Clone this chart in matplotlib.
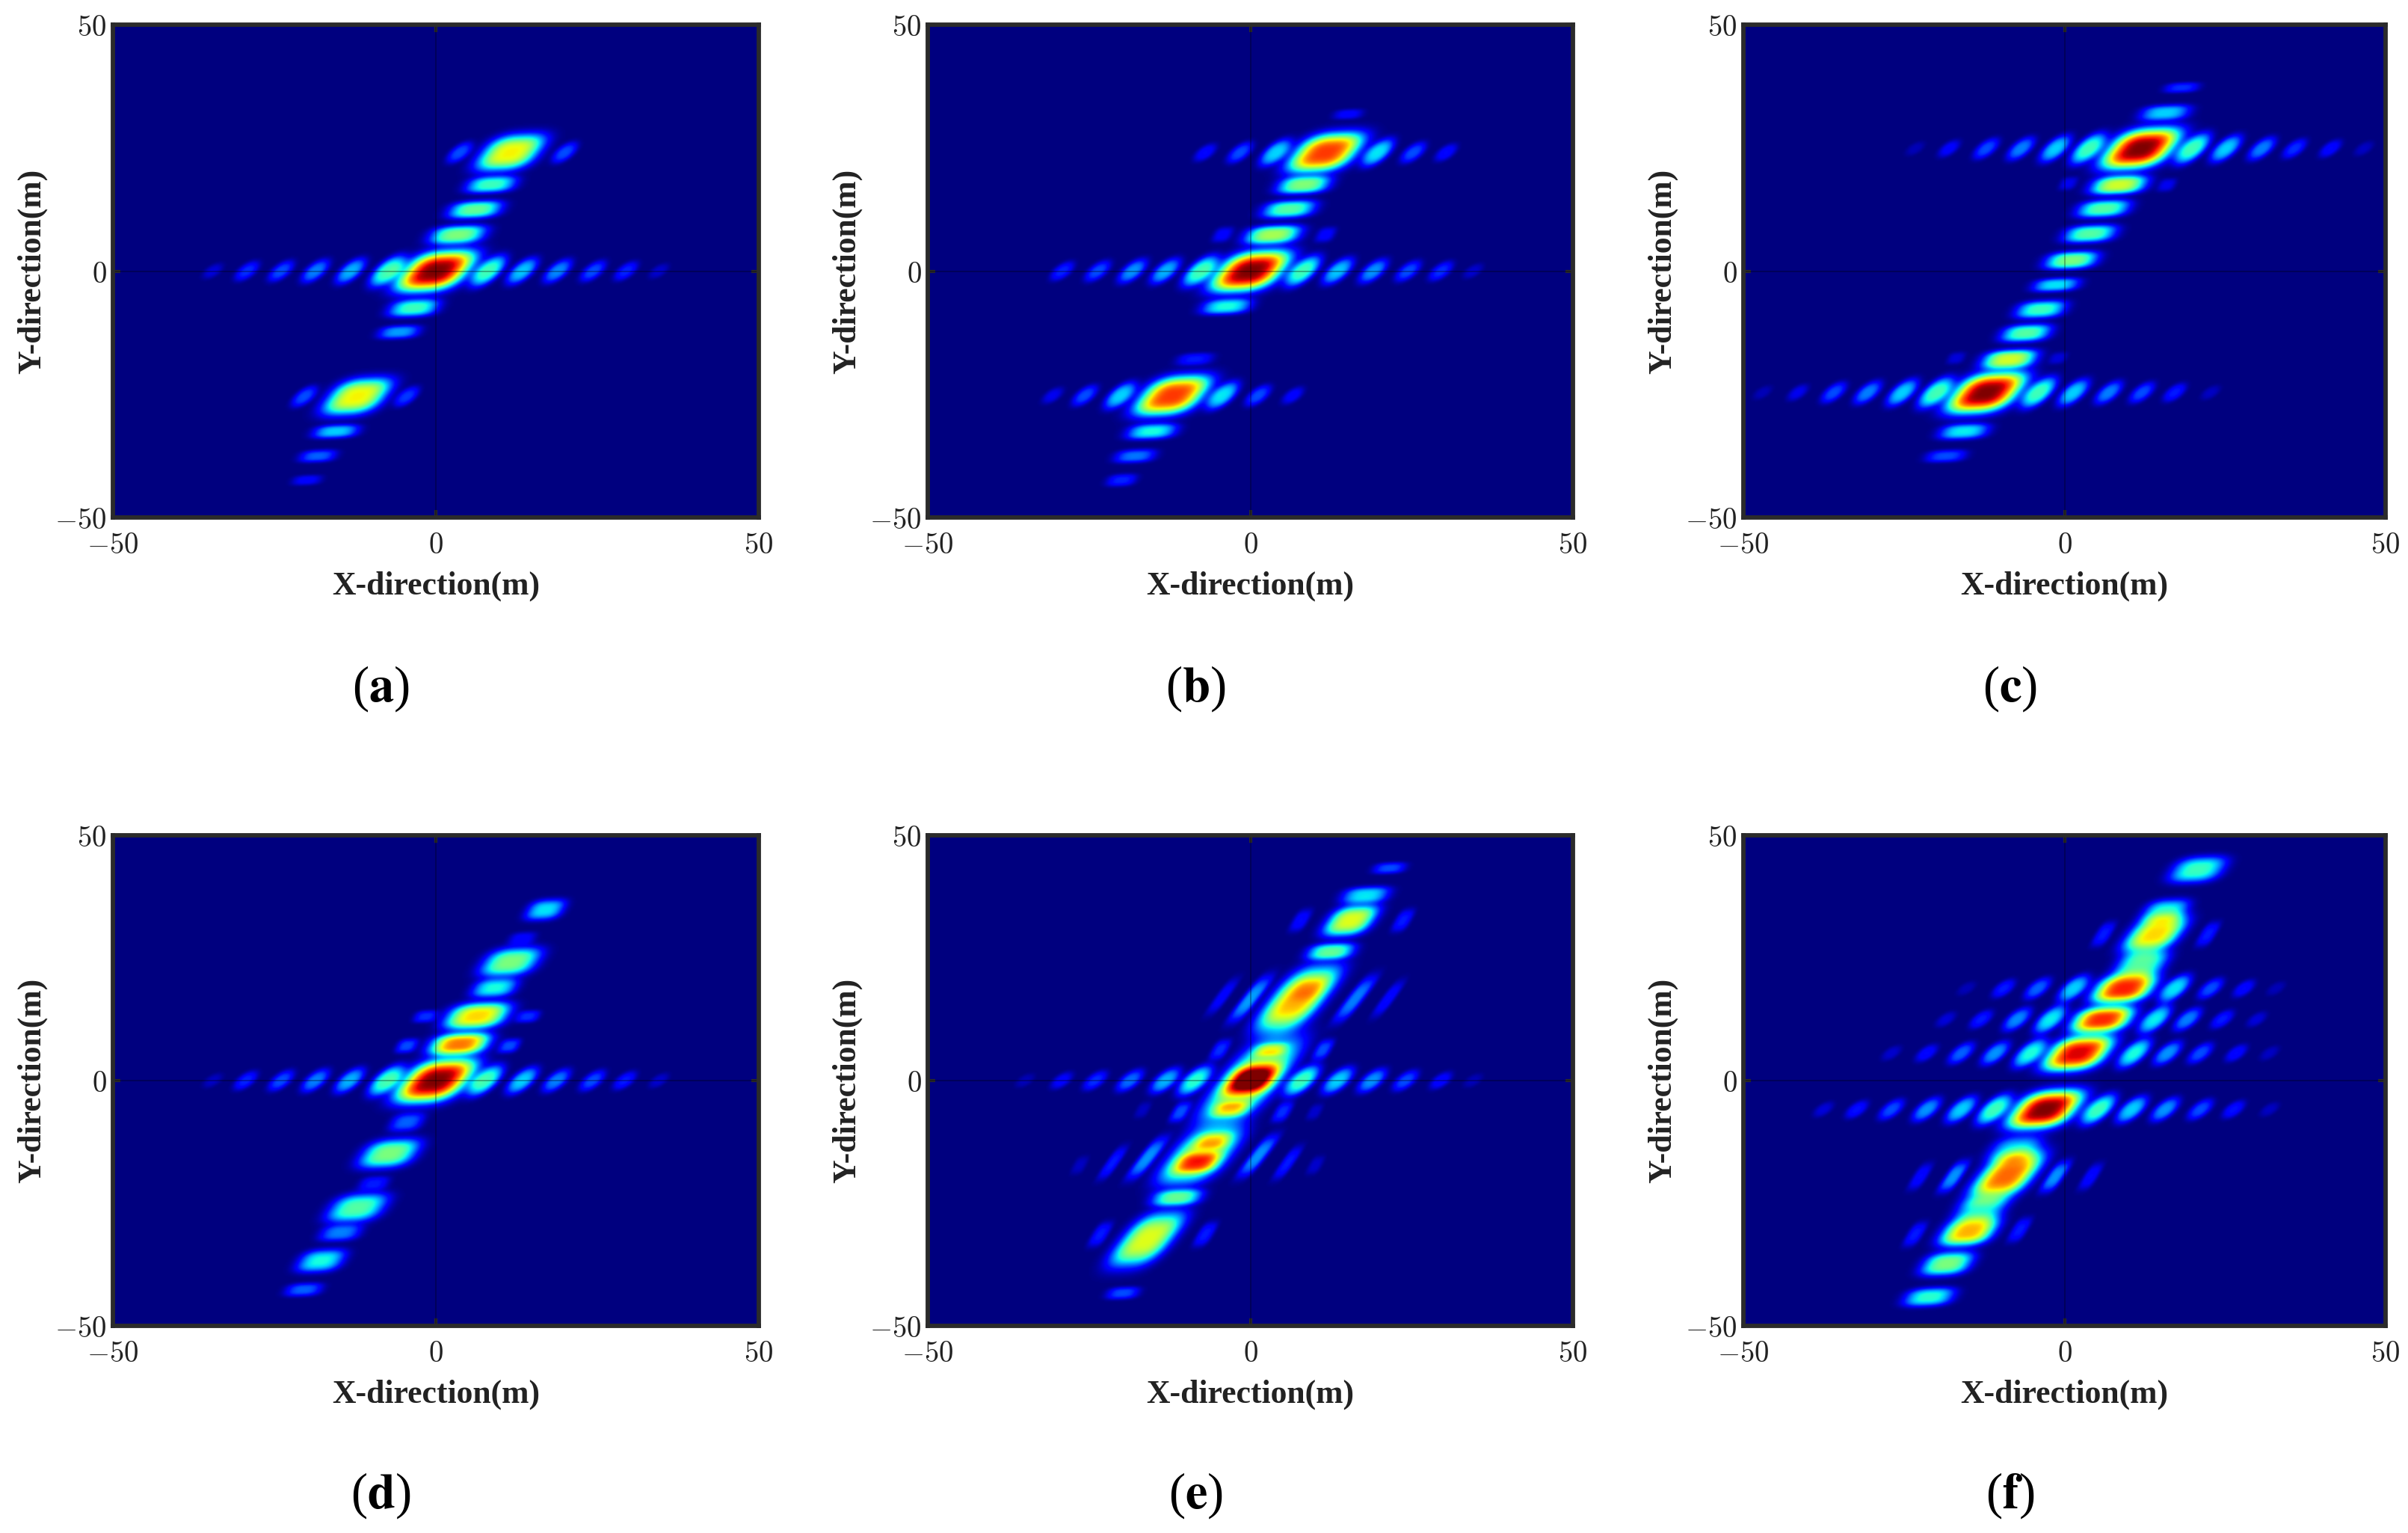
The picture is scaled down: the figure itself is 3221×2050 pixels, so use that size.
"""Six ambiguity-style heat maps, panels (a)-(f), rebuilt from lobes read off the picture."""

import numpy as np
import matplotlib

matplotlib.use("Agg")
import matplotlib.pyplot as plt

# --- Panel (a) ---
A_ARM_X = [-7.5, -13.2, -18.7, -24, -29.3, -34.6, 8.15, 13.4, 18.9, 24.4, 29.5, 34.6, 3.7, 20, -20.4, -4.5]
A_ARM_Y = [0, 0, 0, 0, 0, 0, 0, 0, 0, 0, 0, 0, 24.1, 24.1, -25.5, -25.5]
A_ARM_V = [.42, .3, .25, .2, .17, .08, .42, .32, .26, .2, .16, .07, .2, .2, .2, .18]
A_LOBE_X = [0, 3.4, 6.1, 8.6, 11.6, -3.4, -5.7, -12.2, -15.5, -18.3, -20]
A_LOBE_Y = [0, 7.4, 12.5, 17.6, 24.1, -7.5, -12.4, -25.5, -32.6, -37.6, -42.5]
A_LOBE_V = [1, .5, .47, .42, .65, .42, .28, .65, .33, .22, .12]
A_LOBE_WX = [4.8, 4, 3.8, 3.6, 4.2, 3.6, 3, 4.2, 3.3, 2.7, 2.2]
A_LOBE_WY = [3.9, 1.8, 1.7, 1.6, 3.5, 1.7, 1.3, 3.5, 1.3, 1.2, 1]

# --- Panel (b) ---
B_ARM_X = [-7.8, -13.2, -18.3, -23.7, -29.2, 8.2, 13.6, 19.1, 24.5, 29.6, 34.6,
           3.9, -1.6, -7, 19.8, 25.3, 30.4, -20.2, -25.7, -30.7, -4.3, 1.2, 6.6]
B_ARM_Y = [0, 0, 0, 0, 0, 0, 0, 0, 0, 0, 0,
           24.1, 24.1, 24.1, 24.1, 24.1, 24.1, -25.3, -25.3, -25.3, -25.3, -25.3, -25.3]
B_ARM_V = [.42, .3, .27, .2, .16, .42, .32, .27, .2, .17, .07,
           .33, .2, .13, .35, .2, .13, .33, .2, .1, .35, .2, .12]
B_LOBE_X = [0, 3.5, 6, 8.3, 11.7, 15.2, -4.3, 11.7, -3.7, -12.1, -8.6, -15.3, -17.9, -20]
B_LOBE_Y = [0, 7.4, 12.6, 17.5, 24.1, 31.9, 7.4, 7.4, -7.2, -25.3, -17.9, -32.6, -37.6, -42.5]
B_LOBE_V = [1, .55, .45, .5, .85, .12, .12, .12, .38, .85, .15, .38, .24, .16]
B_LOBE_WX = [4.8, 4, 3.8, 3.8, 4.6, 2.2, 1.4, 1.4, 3.6, 4.6, 2.7, 3.6, 3, 2.2]
B_LOBE_WY = [3.9, 1.8, 1.7, 1.7, 3.8, 1, 1.5, 1.5, 1.5, 3.8, 1.2, 1.5, 1.3, 1.2]

# --- Panel (c) ---
C_ARM_X = [3.7, -1.4, -6.8, -12.2, -18, -23.3, 20, 25.2, 30.8, 35.9, 41.5, 46.7,
           -20.1, -25.3, -30.7, -36, -41.6, -47.1, -4, 1.4, 6.9, 12.1, 17.2, 22.8]
C_ARM_Y = [24.9] * 12 + [-24.7] * 12
C_ARM_V = [.42, .33, .25, .2, .12, .05, .42, .33, .25, .17, .13, .06,
           .42, .33, .25, .2, .1, .05, .42, .33, .25, .2, .15, .06]
C_LOBE_X = [11.9, 15.7, 18.3, 8.5, 6.1, 4, 1.1, -1.3, -3.7, -6, -8.6, -12.2, -15.7, -18.5, .6, 16, -16.9, -1]
C_LOBE_Y = [24.9, 32.2, 37.3, 17.5, 12.7, 7.6, 2.2, -2.8, -7.8, -12.6, -17.9, -24.7, -32.6, -37.6, 17.8, 17.5, -17.7, -17.7]
C_LOBE_V = [1, .33, .17, .6, .45, .45, .5, .35, .42, .45, .6, 1, .36, .2, .1, .1, .08, .08]
C_LOBE_WX = [4.8, 3.6, 2.6, 4, 3.8, 3.8, 3.8, 3.4, 3.6, 3.6, 3.9, 4.8, 3.6, 3, 1.3, 1.3, 1.3, 1.3]
C_LOBE_WY = [3.9, 1.5, 1, 1.8, 1.7, 1.7, 1.7, 1.3, 1.7, 1.7, 1.8, 3.9, 1.5, 1.2, 1.3, 1.3, 1.2, 1.2]

# --- Panel (d) ---
D_ARM_X = [-7.7, -13.4, -18.7, -24, -29.5, -34.6, 7.7, 13.4, 18.7, 24.3, 29.3, 34.6]
D_ARM_Y = [0] * 12
D_ARM_V = [.42, .3, .25, .2, .16, .06, .42, .33, .25, .2, .15, .07]
D_LOBE_X = [0, 3.7, -4.5, 11.4, 6.4, -1.6, 14.3, 9.1, 11.6, 13.4, 17, -4.5, -7.2, -9.6, -12.2, -14.8, -17.8, -20.5]
D_LOBE_Y = [0, 7.5, 7.1, 7.1, 13.2, 13.1, 13.1, 18.9, 24.2, 29, 34.9, -8.5, -14.9, -21, -26, -31.1, -36.8, -42.7]
D_LOBE_V = [1, .78, .2, .2, .68, .17, .17, .38, .5, .12, .35, .22, .5, .15, .45, .25, .38, .22]
D_LOBE_WX = [4.8, 4.2, 1.5, 1.5, 4.4, 1.7, 1.7, 3.2, 4, 2, 2.7, 2.4, 4, 2.2, 4, 3, 3.3, 2.7]
D_LOBE_WY = [4.2, 2.1, 1.4, 1.4, 2.6, 1.2, 1.2, 1.8, 2.8, 1.3, 2, 1.8, 2.8, 1.4, 2.8, 1.6, 2.2, 1.3]

# --- Panel (e) ---
E_ARM_X = [-8.6, -13.2, -18.7, -24.1, -29.3, -35, 8, 13.6, 18.9, 24.1, 29.6, 34.6]
E_ARM_Y = [0] * 12
E_ARM_V = [.4, .3, .23, .17, .12, .05, .42, .33, .27, .2, .13, .05]
E_LOBE_X = [.2, 3.1, -3.1, 0, 7.4, 9, 12.5, 15.6, 17.9, 21.6, -8.2, -5.8, -7.8, -11.4, -16, -19.8,
            0, -4.3, 16.3, 21.4, -4.7, 11.3, -10.9, 5, -16.7, 10, -16, -21.4, 1.2, 5.8, 10.1, -26.5,
            -23.3, -7, 7.8, 23.7]
E_LOBE_Y = [.2, 6.3, -5.9, 0, 16.7, 18.6, 26.4, 32.7, 37.9, 43.4, -16.8, -12.3, -15.4, -23.9, -32.4, -43.4,
            16.7, 17.2, 16.7, 16.7, 6.3, 6.3, -6.4, -6.4, -6, -6.4, -15.8, -16.8, -15.4, -16.8, -17.3, -17.3,
            -31.4, -31.4, 32.7, 32.7]
E_LOBE_V = [.55, .25, .28, .58, .72, .08, .45, .62, .35, .2, .32, .2, .58, .45, .62, .2,
            .28, .12, .25, .13, .17, .2, .2, .17, .06, .07, .27, .15, .27, .15, .07, .06,
            .15, .15, .13, .15]
E_LOBE_WX = [3.6, 2.4, 2.6, 4.5, 4, 2.2, 3.4, 3.4, 3.4, 2.4, 3.2, 2.5, 4.4, 3.6, 3.8, 2.4,
             1.3, 1, 1.3, 1, 1.2, 1.2, 1.2, 1.2, 1, 1, 1.3, 1, 1.3, 1, 1, 1,
             1.2, 1.2, 1.2, 1.2]
E_LOBE_WY = [2.8, 1.3, 1.5, 8.2, 6.2, 2.2, 1.6, 3, 1.6, 1.1, 2, 1.6, 5.5, 1.6, 5.2, 1.2,
             4.4, 3.5, 4.4, 3.5, 2, 2, 2, 2, 1.6, 1.6, 4, 3.2, 4, 3.2, 1.8, 1.8,
             2.4, 2.4, 2.2, 2.2]

# --- Panel (f) ---
F_ARM_X = [-11, -16.1, -21.5, -27, -32.4, -37.6, 5.3, 10.5, 15.7, 21.2, 26.4, 32,
           -5.4, -10.8, -16.1, -21.5, -27, 10.9, 16.1, 21.2, 26.8, 32,
           -2.2, -7.4, -13, -18.5, 14.1, 19.2, 24.6, 30,
           1.4, -4.2, -9.5, -15.3, 17.2, 22.8, 28, 33]
F_ARM_Y = [-5.9] * 12 + [5.6] * 10 + [12.5] * 8 + [18.8] * 8
F_ARM_V = [.42, .33, .27, .2, .14, .08, .42, .33, .27, .2, .14, .06,
           .38, .27, .22, .13, .07, .38, .27, .2, .13, .06,
           .36, .26, .15, .08, .36, .25, .15, .08,
           .33, .22, .15, .05, .35, .2, .13, .05]
F_LOBE_X = [-3, 2.1, 5.9, 9.3, 12, 14.1, 15.7, 20.8, -9, -7.8, -14.9, -13, -18.3, -21.1,
            6.1, 22.4, -17.3, -22.5, -1.4, 4.1, -23.3, -7]
F_LOBE_Y = [-5.9, 5.6, 12.5, 18.8, 23.8, 29.9, 34.6, 43.1, -19.4, -14, -30.8, -26.2, -37.4, -44.2,
            29.9, 29.9, -19.6, -19.6, -19.6, -19.6, -31.4, -30.5]
F_LOBE_V = [1, .92, .87, .88, .45, .68, .38, .42, .8, .3, .72, .36, .5, .4,
            .15, .15, .27, .13, .27, .13, .15, .15]
F_LOBE_WX = [4.6, 4.4, 4.2, 4.2, 3.6, 3.8, 3.2, 3.8, 4, 3.6, 3.8, 3.6, 3.6, 3.6,
             1.2, 1.2, 1.3, 1.1, 1.3, 1.1, 1.2, 1.2]
F_LOBE_WY = [3.7, 3.4, 2.5, 2.8, 2.6, 3.5, 2.3, 2.5, 4.6, 2.6, 2.8, 2.4, 2.3, 1.8,
             2.4, 2.4, 3, 2.6, 3, 2.6, 2.4, 2.4]

PANEL_LETTERS = ["a", "b", "c", "d", "e", "f"]
ARMS = [(A_ARM_X, A_ARM_Y, A_ARM_V), (B_ARM_X, B_ARM_Y, B_ARM_V), (C_ARM_X, C_ARM_Y, C_ARM_V),
        (D_ARM_X, D_ARM_Y, D_ARM_V), (E_ARM_X, E_ARM_Y, E_ARM_V), (F_ARM_X, F_ARM_Y, F_ARM_V)]
LOBES = [(A_LOBE_X, A_LOBE_Y, A_LOBE_V, A_LOBE_WX, A_LOBE_WY),
         (B_LOBE_X, B_LOBE_Y, B_LOBE_V, B_LOBE_WX, B_LOBE_WY),
         (C_LOBE_X, C_LOBE_Y, C_LOBE_V, C_LOBE_WX, C_LOBE_WY),
         (D_LOBE_X, D_LOBE_Y, D_LOBE_V, D_LOBE_WX, D_LOBE_WY),
         (E_LOBE_X, E_LOBE_Y, E_LOBE_V, E_LOBE_WX, E_LOBE_WY),
         (F_LOBE_X, F_LOBE_Y, F_LOBE_V, F_LOBE_WX, F_LOBE_WY)]

AX_TICKS = [-50, 0, 50]
AX_TICK_LABELS = [r"$-50$", r"$0$", r"$50$"]

WIDTH, HEIGHT = 3221, 2050
COL_PX = [(151, 1015), (1241, 2104), (2332, 3191)]
ROW_PX = [(33, 692), (1117, 1773)]
FRAME = "#2b2b2b"

grid = np.linspace(-50, 50, 501)
GX, GY = np.meshgrid(grid, grid)


def add_lobe(field, x, y, v, wx, wy, shear_x, shear_y, outline=2.8):
    u = (GX - x) - shear_x * (GY - y)
    w = (GY - y) - shear_y * (GX - x)
    # squarish outline: once sheared the big lobes turn into the parallelograms of the picture
    q = (np.abs(u / wx) ** outline + np.abs(w / wy) ** outline) ** (2 / outline)
    field += v * np.exp(-(q ** 1.6))


def panel_field(arm, lobes):
    field = np.zeros_like(GX)
    for x, y, v in zip(*arm):
        # cross-arm side lobes are elliptical and slanted, and shrink with their level
        add_lobe(field, x, y, v, 1.1 + 2.2 * v, 1.2 + 4.5 * v, 0.58, 0.0, outline=2.0)
    for x, y, v, wx, wy in zip(*lobes):
        add_lobe(field, x, y, v, wx, wy, min(0.2 + 0.1 * wy, 0.58), 0.05)
    return np.clip(field, 0, 1)


def main():
    plt.rcParams["mathtext.fontset"] = "cm"
    fig = plt.figure(figsize=(WIDTH / 100, HEIGHT / 100), dpi=100, facecolor="white")

    for i, (arm, lobes) in enumerate(zip(ARMS, LOBES)):
        x0, x1 = COL_PX[i % 3]
        y0, y1 = ROW_PX[i // 3]
        ax = fig.add_axes([x0 / WIDTH, 1 - y1 / HEIGHT, (x1 - x0) / WIDTH, (y1 - y0) / HEIGHT])
        ax.imshow(panel_field(arm, lobes), cmap="jet", vmin=0, vmax=1, origin="lower",
                  extent=[-50, 50, -50, 50], aspect="auto", interpolation="bilinear")
        ax.axhline(0, color="black", lw=1.2, alpha=0.35)
        ax.axvline(0, color="black", lw=1.2, alpha=0.35)

        ax.set_xticks(AX_TICKS, AX_TICK_LABELS)
        ax.set_yticks(AX_TICKS, AX_TICK_LABELS)
        ax.tick_params(direction="in", length=7, width=3, color=FRAME, labelcolor="#222222",
                       labelsize=28, top=True, right=True)
        ax.tick_params(axis="x", pad=13)
        ax.tick_params(axis="y", pad=6)
        for spine in ax.spines.values():
            spine.set_linewidth(4.2)
            spine.set_color(FRAME)

        ax.set_xlabel("X-direction(m)", family="Liberation Serif", fontweight="bold",
                      fontsize=31.5, color="#222222", labelpad=11)
        ax.set_ylabel("Y-direction(m)", family="Liberation Serif", fontweight="bold",
                      fontsize=31.5, color="#222222", labelpad=7)

        # the (a)-(f) caption sits left of the axes centre
        label_y = 921 if i < 3 else 2000
        fig.text((x0 + 0.415 * (x1 - x0)) / WIDTH, 1 - label_y / HEIGHT,
                 rf"($\mathbf{{{PANEL_LETTERS[i]}}}$)", ha="center", va="center", fontsize=48,
                 family="Liberation Serif", math_fontfamily="stix", color="black")

    fig.savefig("out.png", dpi=100)


if __name__ == "__main__":
    main()
